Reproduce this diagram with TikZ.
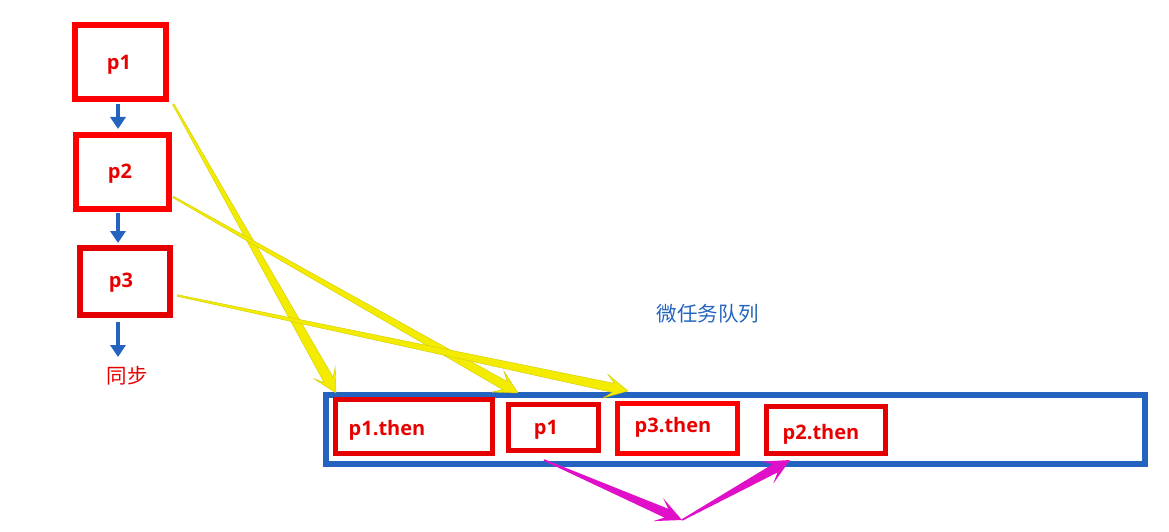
\documentclass[tikz,border=0pt]{standalone}
\usepackage{fontspec}
\setmainfont{Open Sans}
\newfontfamily\cjk{Noto Sans CJK SC}
\usetikzlibrary{calc,arrows.meta}
\definecolor{redA}{HTML}{FF0000}
\definecolor{redB}{HTML}{E40000}
\definecolor{txtred}{HTML}{E80000}
\definecolor{qblue}{HTML}{2464C0}
\definecolor{yel}{HTML}{F4EC00}
\definecolor{mag}{HTML}{E010C8}
\tikzset{
  pbox/.style={draw=redA, line width=6.5pt, minimum width=#1, inner sep=0pt},
  qbox/.style={draw=redB, line width=5pt, inner sep=0pt},
  lbl/.style={text=txtred, font=\bfseries\fontsize{20}{24}\selectfont, inner sep=0pt},
  cjklbl/.style={font=\cjk\fontsize{20.5}{24}\selectfont, inner sep=0pt},
  flow/.style={draw=qblue, line width=3.5pt, -{Triangle[width=15pt,length=12pt]}},
}
% tapered arrow: start, tip, start half-width, shaft-end half-width, shaft-end back distance, head length, head half-width, style
\newcommand\taperarrow[8]{%
  \coordinate (ta-s) at ($(#2)!#5!(#1)$);
  \coordinate (ta-h) at ($(#2)!#6!(#1)$);
  \fill[#8] ($(#1)!#3!90:(#2)$) -- ($(ta-s)!#4!-90:(#1)$) -- ($(ta-h)!#7!-90:(#1)$) -- (#2)
    -- ($(ta-h)!#7!90:(#1)$) -- ($(ta-s)!#4!90:(#1)$) -- ($(#1)!#3!-90:(#2)$) -- cycle;
}
\begin{document}
\begin{tikzpicture}[x=1pt,y=-1pt]
\useasboundingbox (0,0) rectangle (1169,532);
% left column
\node[pbox=91pt, minimum height=74pt] (p1) at (120.5,62) {};
\node[lbl] (p1l) at (119,65) {p1};
\node[pbox=93pt, minimum height=74pt] (p2) at (122.5,172) {};
\node[lbl] (p2l) at (120,174) {p2};
\node[pbox=90pt, minimum height=67pt, draw=redB] (p3) at (125,281.5) {};
\node[lbl] (p3l) at (121,283) {p3};
\node[cjklbl, text=txtred] (sync) at (127,376) {同步};
\draw[flow] (118,104) -- (118,129);
\draw[flow] (118,213) -- (118,243);
\draw[flow] (118,322) -- (118,357);
% queue
\node[cjklbl, text=qblue] (qtitle) at (708,314) {微任务队列};
\node[draw=qblue, line width=6pt, minimum width=819pt, minimum height=69pt, inner sep=0pt] (queue) at (735.5,429.5) {};
\node[qbox, minimum width=157pt, minimum height=54pt] (q1) at (414,426.5) {};
\node[lbl] (q1l) at (387,430) {p1.then};
\node[qbox, minimum width=90pt, minimum height=46pt] (q2) at (553.5,427.5) {};
\node[lbl] (q2l) at (546,430) {p1};
\node[qbox, draw=redA, minimum width=120pt, minimum height=50pt] (q3) at (677.5,428.5) {};
\node[lbl] (q3l) at (673,427) {p3.then};
\node[qbox, minimum width=119pt, minimum height=47pt] (q4) at (826,430) {};
\node[lbl] (q4l) at (821,434) {p2.then};
% yellow arrows
\coordinate (y1s) at ($(p1.south east)+(4,2)$);
\coordinate (y1e) at (336,393);
\coordinate (y2s) at ($(p2.east)+(1,25)$);
\coordinate (y2e) at (518,393);
\coordinate (y3s) at ($(p3.east)+(4,14)$);
\coordinate (y3e) at (628,391);
\taperarrow{y1s}{y1e}{0.8pt}{5.2pt}{15pt}{23pt}{12pt}{yel, draw=yel!85!black, line width=0.4pt}
\taperarrow{y2s}{y2e}{0.8pt}{4.6pt}{15pt}{23pt}{12pt}{yel, draw=yel!85!black, line width=0.4pt}
\taperarrow{y3s}{y3e}{0.8pt}{4.6pt}{15pt}{23pt}{12pt}{yel, draw=yel!85!black, line width=0.4pt}
% magenta arrows
\coordinate (m1s) at ($(q2.south west)!0.4!(q2.south east)+(0,7)$);
\coordinate (mid) at (682,520);
\coordinate (m2e) at ($(q4.south west)+(26,4)$);
\taperarrow{m1s}{mid}{0.8pt}{4.8pt}{17pt}{26pt}{12.5pt}{mag}
\taperarrow{mid}{m2e}{0.8pt}{4.8pt}{17pt}{26pt}{12.5pt}{mag}
\end{tikzpicture}
\end{document}
